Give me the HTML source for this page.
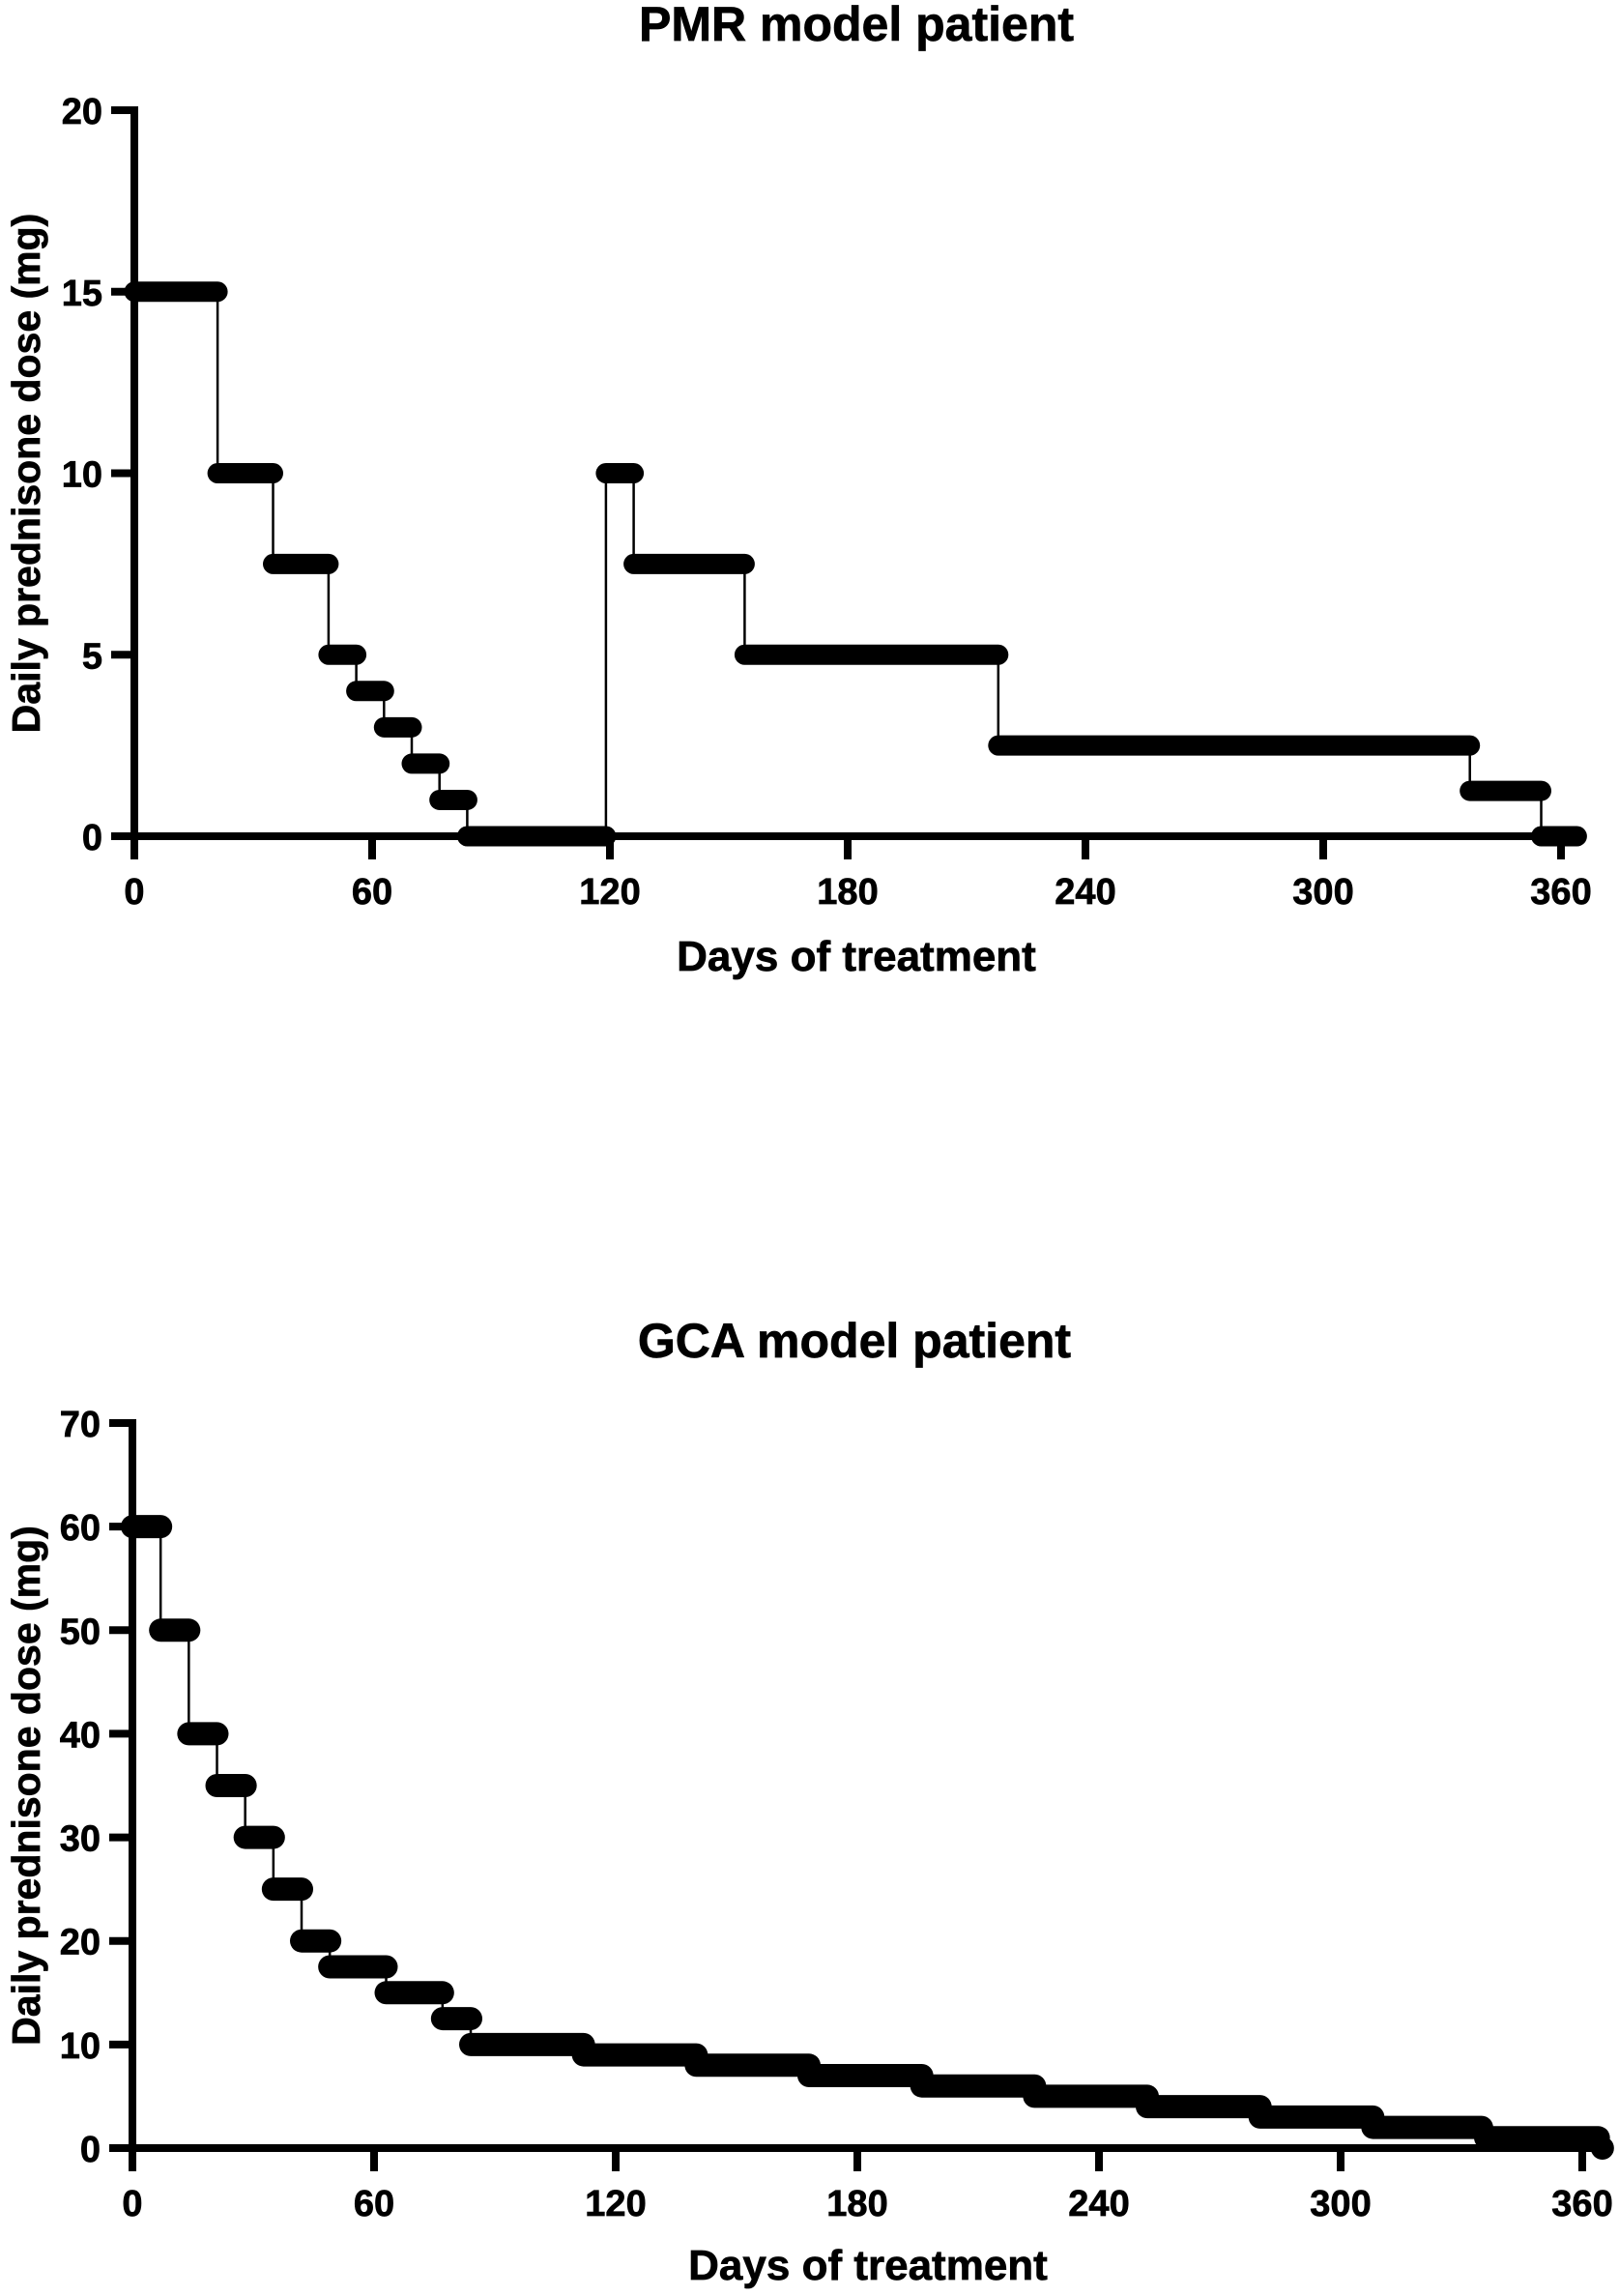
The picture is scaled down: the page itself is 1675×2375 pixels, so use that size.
<!DOCTYPE html>
<html><head><meta charset="utf-8"><style>
html,body{margin:0;padding:0;background:#fff}
svg{display:block}
text{font-family:"Liberation Sans",Arial,sans-serif;font-weight:bold;fill:#000;stroke:#000;stroke-width:0.7}
</style></head><body>
<svg id="chart" width="1675" height="2375" viewBox="0 0 1675 2375" xmlns="http://www.w3.org/2000/svg"></svg>
<script>
// PMR model patient data: step levels with [start day, end day]
const pmrStarts = [0, 21, 35, 49, 56, 63, 70, 77, 84, 119, 126, 154, 218, 337, 355];
const pmrEnds   = [21, 35, 49, 56, 63, 70, 77, 84, 119, 126, 154, 218, 337, 355, 364];
const pmrDoses  = [15, 10, 7.5, 5, 4, 3, 2, 1, 0, 10, 7.5, 5, 2.5, 1.25, 0];
const pmrYTicks = [0, 5, 10, 15, 20];
// GCA model patient data
const gcaStarts = [0, 7, 14, 21, 28, 35, 42, 49, 63, 77, 84, 112, 140, 168, 196, 224, 252, 280, 308, 336, 365];
const gcaEnds   = [7, 14, 21, 28, 35, 42, 49, 63, 77, 84, 112, 140, 168, 196, 224, 252, 280, 308, 335, 364, 365];
const gcaDoses  = [60, 50, 40, 35, 30, 25, 20, 17.5, 15, 12.5, 10, 9, 8, 7, 6, 5, 4, 3, 2, 1, 0];
const gcaYTicks = [0, 10, 20, 30, 40, 50, 60, 70];
const xTicks = [0, 60, 120, 180, 240, 300, 360];

const NS = "http://www.w3.org/2000/svg";
const svg = document.getElementById('chart');
function mk(tag, attrs, parent){
  const e = document.createElementNS(NS, tag);
  for (const k in attrs) e.setAttribute(k, attrs[k]);
  (parent||svg).appendChild(e);
  return e;
}

function drawPanel(cfg){
  const g = mk('g', {});
  
  
  const X = d => cfg.x0 + (d - 0) * (cfg.x360 - cfg.x0) / 360;
  const Y = v => cfg.y0 + (v - 0) * (cfg.yTop - cfg.y0) / cfg.yMax;

  const title = mk('text', {x: cfg.titleX, y: cfg.titleY, 'font-size': 50, 'text-anchor': 'middle'}, g);
  title.textContent = cfg.title;
  
  

  let pts = [];
  for (let i = 0; i < cfg.starts.length; i++){
    pts.push(X(cfg.starts[i]) + ',' + Y(cfg.doses[i]));
    pts.push(X(cfg.ends[i]) + ',' + Y(cfg.doses[i]));
  }
  const conn = mk('polyline', {points: pts.join(' '), fill: 'none', stroke: '#000', 'stroke-width': 2.5}, g);
  
  

  const ya = mk('line', {x1: cfg.x0, y1: Y(cfg.yMax)-4, x2: cfg.x0, y2: cfg.y0 + 24, stroke: '#000', 'stroke-width': 8}, g);
  
  
  const xa = mk('line', {x1: cfg.x0 - 24, y1: cfg.y0, x2: X(366), y2: cfg.y0, stroke: '#000', 'stroke-width': 8}, g);
  
  

  cfg.yTicks.forEach(v => {
    mk('line', {x1: cfg.x0 - 24, y1: Y(v), x2: cfg.x0, y2: Y(v), stroke: '#000', 'stroke-width': 8}, g);
    const t = mk('text', {x: cfg.x0 - 33, y: Y(v) + 14, 'font-size': 38, 'text-anchor': 'end'}, g);
    t.textContent = v;
    
    
  });
  xTicks.forEach(d => {
    mk('line', {x1: X(d), y1: cfg.y0, x2: X(d), y2: cfg.y0 + 24, stroke: '#000', 'stroke-width': 8}, g);
    const t = mk('text', {x: X(d), y: cfg.y0 + 70, 'font-size': 38, 'text-anchor': 'middle'}, g);
    t.textContent = d;
    
    
  });

  for (let i = 0; i < cfg.starts.length; i++){
    const s = mk('line', {x1: X(cfg.starts[i]), y1: Y(cfg.doses[i]), x2: X(cfg.ends[i]), y2: Y(cfg.doses[i]), stroke: '#000', 'stroke-width': cfg.sw, 'stroke-linecap': 'round'}, g);
    
    
  }

  const xt = mk('text', {x: cfg.xTitleX, y: cfg.y0 + cfg.xTitleOff, 'font-size': 44, 'text-anchor': 'middle'}, g);
  xt.textContent = 'Days of treatment';
  
  
  const cy = (cfg.y0 + Y(cfg.yMax)) / 2;
  const yt = mk('text', {x: 0, y: 0, 'font-size': 41, 'text-anchor': 'middle', transform: 'translate(41,' + cy + ') rotate(-90)'}, g);
  yt.textContent = 'Daily prednisone dose (mg)';
  
  
}

drawPanel({name: 'pmr-chart', title: 'PMR model patient', titleX: 886, titleY: 42, x0: 139, x360: 1615, y0: 865, yTop: 114, yMax: 20,
  xTitleX: 886, xTitleOff: 139,
  starts: pmrStarts, ends: pmrEnds, doses: pmrDoses, yTicks: pmrYTicks, sw: 21});
drawPanel({name: 'gca-chart', title: 'GCA model patient', titleX: 884, titleY: 1404, x0: 137, x360: 1637, y0: 2222, yTop: 1472, yMax: 70,
  xTitleX: 898, xTitleOff: 136,
  starts: gcaStarts, ends: gcaEnds, doses: gcaDoses, yTicks: gcaYTicks, sw: 24});
</script>
</body></html>
